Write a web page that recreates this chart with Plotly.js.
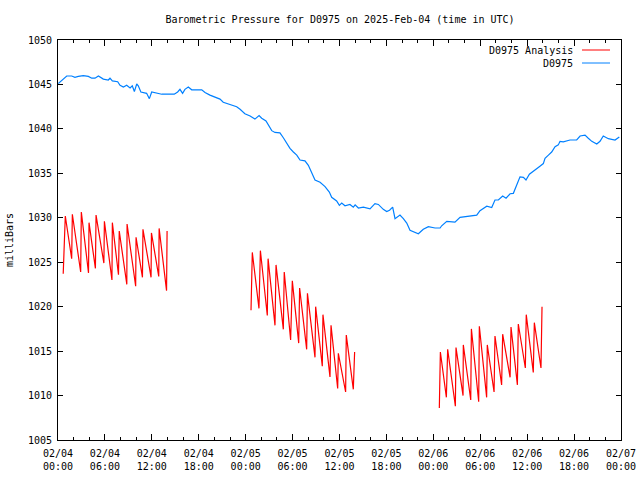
<!DOCTYPE html>
<html>
<head>
<meta charset="utf-8">
<script src="https://cdn.plot.ly/plotly-3.0.1.min.js"></script>
<style>html,body{margin:0;padding:0;background:#fff;}#chart{width:640px;height:480px;}</style>
</head>
<body>
<div id="chart"></div>
<script>
// ---- data ----
const chartTitle = "Barometric Pressure for D0975 on 2025-Feb-04 (time in UTC)";
const yTitle = "milliBars";
const seriesNames = ["D0975 Analysis", "D0975"];

// Analysis series (three runs; null separates them)
const redTime = [
  "2025-02-04 00:40","2025-02-04 00:56","2025-02-04 01:45","2025-02-04 01:50","2025-02-04 02:54","2025-02-04 02:59",
  "2025-02-04 03:54","2025-02-04 03:58","2025-02-04 04:47","2025-02-04 04:52","2025-02-04 05:52","2025-02-04 05:56",
  "2025-02-04 06:54","2025-02-04 06:57","2025-02-04 07:44","2025-02-04 07:50","2025-02-04 08:48","2025-02-04 08:50",
  "2025-02-04 09:56","2025-02-04 09:59","2025-02-04 10:48","2025-02-04 10:52","2025-02-04 11:54","2025-02-04 11:57",
  "2025-02-04 12:53","2025-02-04 12:56","2025-02-04 13:53","2025-02-04 13:57",
  "2025-02-04 19:00",
  "2025-02-05 00:41","2025-02-05 00:51","2025-02-05 01:42","2025-02-05 01:53","2025-02-05 02:46","2025-02-05 02:52",
  "2025-02-05 03:45","2025-02-05 03:53","2025-02-05 04:49","2025-02-05 04:56","2025-02-05 05:45","2025-02-05 05:58",
  "2025-02-05 06:47","2025-02-05 06:54","2025-02-05 07:48","2025-02-05 07:54","2025-02-05 08:52","2025-02-05 08:57",
  "2025-02-05 09:48","2025-02-05 09:53","2025-02-05 10:47","2025-02-05 10:55","2025-02-05 11:46","2025-02-05 11:51",
  "2025-02-05 12:47","2025-02-05 12:52","2025-02-05 13:46","2025-02-05 13:56",
  "2025-02-05 19:00",
  "2025-02-06 00:46","2025-02-06 00:54","2025-02-06 01:40","2025-02-06 01:50","2025-02-06 02:49","2025-02-06 02:54",
  "2025-02-06 03:48","2025-02-06 03:50","2025-02-06 04:47","2025-02-06 04:52","2025-02-06 05:48","2025-02-06 05:53",
  "2025-02-06 06:49","2025-02-06 06:54","2025-02-06 07:46","2025-02-06 07:53","2025-02-06 08:44","2025-02-06 08:52",
  "2025-02-06 09:49","2025-02-06 09:56","2025-02-06 10:45","2025-02-06 10:52","2025-02-06 11:46","2025-02-06 11:53",
  "2025-02-06 12:47","2025-02-06 12:55","2025-02-06 13:46","2025-02-06 13:54"
];
const redValue = [
  1023.7,1030.2,1025.4,1030.4,1023.9,1030.65,
  1023.8,1029.45,1024.3,1030.3,1024.9,1029.6,
  1023.0,1029.45,1023.6,1028.5,1022.5,1029.3,
  1022.3,1027.8,1023.3,1028.7,1023.3,1028.3,
  1023.4,1028.8,1021.8,1028.5,
  null,
  1019.6,1026.1,1019.8,1026.3,1019.0,1025.4,
  1017.9,1024.7,1017.45,1023.9,1016.25,1022.9,
  1015.9,1022.1,1015.2,1021.5,1014.3,1020.0,
  1013.3,1019.1,1012.1,1017.9,1010.8,1014.75,
  1010.4,1016.8,1010.7,1014.9,
  null,
  1008.6,1014.9,1009.8,1015.2,1008.8,1015.4,
  1010.0,1015.7,1009.5,1017.5,1009.3,1017.8,
  1009.8,1015.7,1010.4,1016.7,1011.2,1016.9,
  1012.05,1017.7,1011.2,1018.05,1013.1,1019.1,
  1012.6,1018.2,1013.1,1020.0
];

// Observed series
const blueTime = [
  "2025-02-04 00:02","2025-02-04 00:23","2025-02-04 01:07","2025-02-04 01:45","2025-02-04 02:10","2025-02-04 02:36",
  "2025-02-04 03:14","2025-02-04 03:53","2025-02-04 04:19","2025-02-04 04:44","2025-02-04 05:10","2025-02-04 05:48",
  "2025-02-04 06:26","2025-02-04 06:39","2025-02-04 06:57","2025-02-04 07:38","2025-02-04 07:56","2025-02-04 08:22",
  "2025-02-04 08:47","2025-02-04 09:13","2025-02-04 09:30","2025-02-04 09:46","2025-02-04 10:04","2025-02-04 10:16",
  "2025-02-04 10:36","2025-02-04 11:20","2025-02-04 11:41","2025-02-04 11:59","2025-02-04 12:50","2025-02-04 13:16",
  "2025-02-04 14:07","2025-02-04 14:52","2025-02-04 15:18","2025-02-04 15:36","2025-02-04 15:56","2025-02-04 16:14",
  "2025-02-04 16:40","2025-02-04 17:06","2025-02-04 18:23","2025-02-04 18:48","2025-02-04 19:26","2025-02-04 20:05",
  "2025-02-04 20:43","2025-02-04 21:08","2025-02-04 21:47","2025-02-04 22:25","2025-02-04 22:51","2025-02-04 23:17",
  "2025-02-04 23:54",
  "2025-02-05 00:34","2025-02-05 01:11","2025-02-05 01:43","2025-02-05 02:03","2025-02-05 02:36","2025-02-05 02:54",
  "2025-02-05 03:20","2025-02-05 03:45","2025-02-05 04:23","2025-02-05 04:49","2025-02-05 05:15","2025-02-05 05:40",
  "2025-02-05 06:06","2025-02-05 06:32","2025-02-05 06:57","2025-02-05 07:35","2025-02-05 08:01","2025-02-05 08:27",
  "2025-02-05 08:52","2025-02-05 09:31","2025-02-05 10:09","2025-02-05 10:42","2025-02-05 11:00","2025-02-05 11:38",
  "2025-02-05 11:59","2025-02-05 12:17","2025-02-05 12:42","2025-02-05 13:20","2025-02-05 13:46","2025-02-05 14:00",
  "2025-02-05 14:25","2025-02-05 15:03","2025-02-05 15:30","2025-02-05 15:54","2025-02-05 16:32","2025-02-05 16:58",
  "2025-02-05 17:36","2025-02-05 18:02","2025-02-05 18:24","2025-02-05 18:48","2025-02-05 19:06","2025-02-05 19:44",
  "2025-02-05 20:10","2025-02-05 20:36","2025-02-05 21:01","2025-02-05 21:27","2025-02-05 22:05","2025-02-05 22:24",
  "2025-02-05 22:43","2025-02-05 23:22",
  "2025-02-06 00:13","2025-02-06 00:52","2025-02-06 01:04","2025-02-06 01:43","2025-02-06 02:46","2025-02-06 03:25",
  "2025-02-06 04:03","2025-02-06 04:41","2025-02-06 05:33","2025-02-06 05:58","2025-02-06 06:23","2025-02-06 06:50",
  "2025-02-06 07:28","2025-02-06 07:53","2025-02-06 08:19","2025-02-06 08:52","2025-02-06 09:18","2025-02-06 09:49",
  "2025-02-06 10:14","2025-02-06 10:40","2025-02-06 11:05","2025-02-06 11:31","2025-02-06 11:51","2025-02-06 12:17",
  "2025-02-06 12:47","2025-02-06 13:13","2025-02-06 13:38","2025-02-06 14:04","2025-02-06 14:17","2025-02-06 14:43",
  "2025-02-06 15:08","2025-02-06 15:34","2025-02-06 15:59","2025-02-06 16:12","2025-02-06 16:37","2025-02-06 17:29",
  "2025-02-06 18:20","2025-02-06 18:46","2025-02-06 19:24","2025-02-06 19:49","2025-02-06 20:16","2025-02-06 20:54",
  "2025-02-06 21:19","2025-02-06 21:44","2025-02-06 22:23","2025-02-06 23:14","2025-02-06 23:47"
];
const blueValue = [
  1045.1,1045.4,1045.95,1045.95,1045.8,1045.9,
  1046.0,1045.9,1045.7,1045.7,1045.95,1045.6,
  1045.5,1045.7,1045.4,1045.3,1044.9,1044.7,
  1044.9,1044.6,1044.85,1044.2,1045.05,1044.85,
  1044.15,1044.0,1043.4,1044.15,1043.95,1043.9,
  1043.9,1043.9,1044.15,1044.45,1044.0,1044.45,
  1044.7,1044.4,1044.4,1044.1,1043.8,1043.55,
  1043.35,1043.0,1042.8,1042.65,1042.5,1042.2,
  1041.7,
  1041.45,1041.1,1041.5,1041.2,1040.9,1040.5,
  1039.8,1039.6,1039.55,1039.0,1038.45,1037.8,
  1037.4,1037.05,1036.5,1036.4,1035.9,1035.1,
  1034.25,1034.0,1033.5,1032.9,1032.3,1031.9,
  1031.4,1031.65,1031.35,1031.5,1031.2,1031.45,
  1031.1,1031.2,1031.1,1031.0,1031.6,1031.5,
  1030.95,1030.7,1030.85,1031.2,1029.9,1030.3,
  1029.9,1029.4,1028.6,1028.4,1028.2,1028.45,
  1028.7,1029.0,
  1028.85,1028.85,1029.1,1029.6,1029.5,1030.05,
  1030.1,1030.15,1030.3,1030.8,1031.05,1031.3,
  1031.15,1032.0,1032.0,1032.45,1032.2,1032.7,
  1032.75,1033.7,1034.6,1034.55,1034.25,1034.9,
  1035.2,1035.45,1035.8,1036.1,1036.7,1037.05,
  1037.4,1038.0,1038.2,1038.6,1038.55,1038.75,
  1038.75,1039.2,1039.3,1038.95,1038.6,1038.3,
  1038.6,1039.2,1038.9,1038.75,1039.1
];

const xRange = ["2025-02-04 00:00", "2025-02-07 00:00"];
const yRange = [1005, 1050];

// ---- styles ----
const redColor = "#ff0000";
const blueColor = "#0080ff";
const font = {family: "DejaVu Sans Mono, Liberation Mono, monospace", size: 10, color: "#000"};

const traces = [
  {x: redTime, y: redValue, type: "scatter", mode: "lines", name: seriesNames[0],
   line: {color: redColor, width: 1.2}, connectgaps: false, showlegend: false},
  {x: blueTime, y: blueValue, type: "scatter", mode: "lines", name: seriesNames[1],
   line: {color: blueColor, width: 1.2}, showlegend: false}
];

// legend drawn gnuplot-style (text, then sample line to its right)
const W = 563, H = 400, L = 58, T = 40;
const px = p => (p - L) / W;
const py = p => 1 - (p - T) / H;
const legendRows = [
  {name: seriesNames[0], color: redColor, y: 50},
  {name: seriesNames[1], color: blueColor, y: 63}
];

const layout = {
  width: 640, height: 480,
  margin: {l: 58, r: 19, t: 40, b: 40, pad: 0},
  paper_bgcolor: "#fff", plot_bgcolor: "#fff",
  font: font,
  showlegend: false,
  title: {text: chartTitle, font: font, x: px(340), xref: "paper", xanchor: "center",
          y: 1 - 19 / 480, yref: "container", yanchor: "middle"},
  xaxis: {
    type: "date", range: xRange, autorange: false,
    tickmode: "linear", tick0: "2025-02-04 00:00", dtick: 6 * 3600 * 1000,
    tickformat: "%m/%d<br>%H:%M",
    ticks: "inside", ticklen: 6, tickwidth: 1, tickcolor: "#000",
    minor: {dtick: 2 * 3600 * 1000, ticks: "inside", ticklen: 3, tickcolor: "#000", showgrid: false},
    showline: true, linecolor: "#000", linewidth: 1, mirror: "allticks",
    showgrid: false, zeroline: false, tickfont: font, ticklabelstandoff: 4
  },
  yaxis: {
    range: yRange, autorange: false, tickmode: "linear", tick0: 1005, dtick: 5,
    ticks: "inside", ticklen: 5, tickwidth: 1, tickcolor: "#000",
    showline: true, linecolor: "#000", linewidth: 1, mirror: "allticks",
    showgrid: false, zeroline: false, tickfont: font, ticklabelstandoff: 3,
    title: {text: yTitle, font: font, standoff: 12}
  },
  shapes: legendRows.map(r => ({type: "line", xref: "paper", yref: "paper",
    x0: px(582), x1: px(610), y0: py(r.y), y1: py(r.y), line: {color: r.color, width: 1}})),
  annotations: legendRows.map(r => ({text: r.name, xref: "paper", yref: "paper",
    x: px(575), y: py(r.y), xanchor: "right", yanchor: "middle", showarrow: false, font: font}))
};

Plotly.newPlot("chart", traces, layout, {staticPlot: true, displayModeBar: false});
</script>
</body>
</html>
